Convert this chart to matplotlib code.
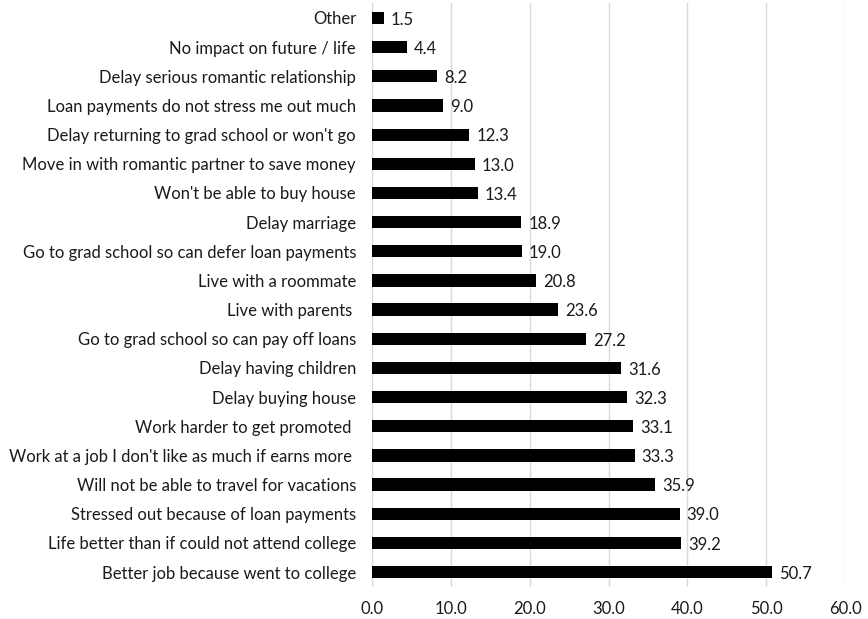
import matplotlib.pyplot as plt

# --------------------------------
# DATA
# --------------------------------

categories = [
    "Other",
    "No impact on future / life",
    "Delay serious romantic relationship",
    "Loan payments do not stress me out much",
    "Delay returning to grad school or won't go",
    "Move in with romantic partner to save money",
    "Won't be able to buy house",
    "Delay marriage",
    "Go to grad school so can defer loan payments",
    "Live with a roommate",
    "Live with parents ",
    "Go to grad school so can pay off loans",
    "Delay having children",
    "Delay buying house",
    "Work harder to get promoted ",
    "Work at a job I don't like as much if earns more ",
    "Will not be able to travel for vacations",
    "Stressed out because of loan payments",
    "Life better than if could not attend college",
    "Better job because went to college",
]

values = [1.5, 4.4, 8.2, 9.0, 12.3, 13.0, 13.4, 18.9, 19.0, 20.8,
          23.6, 27.2, 31.6, 32.3, 33.1, 33.3, 35.9, 39.0, 39.2, 50.7]

xticks = [0, 10, 20, 30, 40, 50, 60]

# --------------------------------
# PLOT
# --------------------------------

plt.rcParams["font.family"] = ["Lato", "DejaVu Sans"]

fig = plt.figure(figsize=(8.68, 6.19), dpi=100)
ax = fig.add_axes([0.4286, 0.0523, 0.545, 0.9422])

pos = list(range(len(categories)))
ax.barh(pos, values, height=0.42, color="black", zorder=3)

for p, v in zip(pos, values):
    ax.text(v + 0.9, p + 0.06, f"{v:.1f}", va="center", ha="left",
            fontsize=12, color="#1a1a1a")

ax.set_yticks(pos)
ax.set_yticklabels(categories, fontsize=12, color="#1a1a1a")
ax.invert_yaxis()
ax.set_ylim(19.5, -0.5)

ax.set_xlim(0, 60)
ax.set_xticks(xticks)
ax.set_xticklabels([f"{t:.1f}" for t in xticks], fontsize=12, color="#1a1a1a")

ax.grid(axis="x", color="#d9d9d9", linewidth=1, zorder=0)
for s in ["top", "right", "bottom", "left"]:
    ax.spines[s].set_visible(False)
ax.tick_params(axis="both", length=0)
ax.tick_params(axis="x", pad=10)
ax.tick_params(axis="y", pad=11.5)

fig.savefig("out.png", dpi=100)
